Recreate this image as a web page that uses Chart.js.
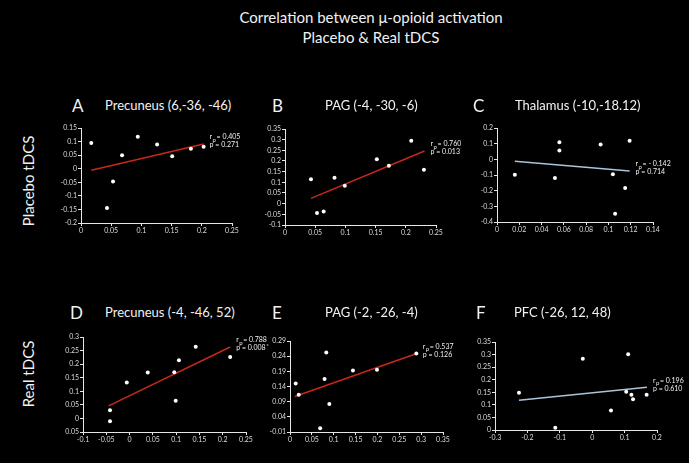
<!DOCTYPE html>
<html>
<head>
<meta charset="utf-8">
<script src="https://cdn.jsdelivr.net/npm/chart.js@4"></script>
<style>
  html, body { margin: 0; padding: 0; background: #000; }
  #stage { position: relative; width: 689px; height: 463px; background: #000; overflow: hidden;
    font-family: Lato, 'Noto Sans', sans-serif; color: #f2f2f2; }
  .txt { position: absolute; white-space: nowrap; line-height: 1; }
  canvas { position: absolute; }
</style>
</head>
<body>
<div id="stage"></div>
<script>
// Six small scatter plots with a fitted line each.
const panelLetters = ['A', 'B', 'C', 'D', 'E', 'F'];
const panelTitles = [
  'Precuneus (6,-36, -46)', 'PAG (-4, -30, -6)', 'Thalamus (-10,-18.12)',
  'Precuneus (-4, -46, 52)', 'PAG (-2, -26, -4)', 'PFC (-26, 12, 48)'
];
const rowLabels = ['Placebo tDCS', 'Real tDCS'];

const xA = [0.017, 0.043, 0.053, 0.068, 0.094, 0.126, 0.151, 0.182, 0.203];
const yA = [0.095, -0.145, -0.047, 0.050, 0.118, 0.089, 0.046, 0.074, 0.081];
const fitXA = [0.017, 0.203];
const fitYA = [-0.006, 0.091];

const xB = [0.043, 0.053, 0.064, 0.082, 0.099, 0.152, 0.172, 0.209, 0.230];
const yB = [0.114, -0.044, -0.037, 0.122, 0.084, 0.208, 0.178, 0.295, 0.159];
const fitXB = [0.043, 0.231];
const fitYB = [0.025, 0.247];

const xC = [0.016, 0.052, 0.056, 0.056, 0.093, 0.104, 0.106, 0.115, 0.119];
const yC = [-0.098, -0.119, 0.109, 0.057, 0.094, -0.096, -0.347, -0.183, 0.119];
const fitXC = [0.016, 0.119];
const fitYC = [-0.013, -0.074];

const xD = [-0.042, -0.042, -0.006, 0.039, 0.096, 0.099, 0.106, 0.142, 0.216];
const yD = [-0.010, 0.030, 0.132, 0.169, 0.170, 0.065, 0.214, 0.264, 0.226];
const fitXD = [-0.045, 0.216];
const fitYD = [0.046, 0.263];

const xE = [0.013, 0.020, 0.069, 0.079, 0.083, 0.090, 0.144, 0.199, 0.289];
const yE = [0.150, 0.113, 0.002, 0.165, 0.252, 0.082, 0.193, 0.195, 0.249];
const fitXE = [0.011, 0.290];
const fitYE = [0.107, 0.249];

const xF = [-0.226, -0.114, -0.029, 0.058, 0.105, 0.111, 0.121, 0.126, 0.168];
const yF = [0.148, 0.009, 0.283, 0.078, 0.152, 0.301, 0.140, 0.122, 0.140];
const fitXF = [-0.226, 0.169];
const fitYF = [0.118, 0.170];

// axis ticks
const xTicksA = [0, 0.05, 0.1, 0.15, 0.2, 0.25];
const yTicksA = [-0.2, -0.15, -0.1, -0.05, 0, 0.05, 0.1, 0.15];
const xTicksB = [0, 0.05, 0.1, 0.15, 0.2, 0.25];
const yTicksB = [-0.1, -0.05, 0, 0.05, 0.1, 0.15, 0.2, 0.25, 0.3, 0.35];
const xTicksC = [0, 0.02, 0.04, 0.06, 0.08, 0.1, 0.12, 0.14];
const yTicksC = [-0.4, -0.3, -0.2, -0.1, 0, 0.1, 0.2];
const xTicksD = [-0.1, -0.05, 0, 0.05, 0.1, 0.15, 0.2, 0.25];
const yTicksD = [-0.05, 0, 0.05, 0.1, 0.15, 0.2, 0.25, 0.3];
const yLabelsD = ['0.05', '0', '0.05', '0.1', '0.15', '0.2', '0.25', '0.3'];
const xTicksE = [0, 0.05, 0.1, 0.15, 0.2, 0.25, 0.3, 0.35];
const yTicksE = [-0.01, 0.04, 0.09, 0.14, 0.19, 0.24, 0.29];
const xTicksF = [-0.3, -0.2, -0.1, 0, 0.1, 0.2];
const yTicksF = [0, 0.05, 0.1, 0.15, 0.2, 0.25, 0.3, 0.35];

const rValues = ['0.405', '0.760', '- 0.142', '0.788', '0.537', '0.196'];
const pValues = ['0.271', '0.013', '0.714', '0.008', '0.126', '0.610'];
const significant = [false, true, false, true, false, false];

const RED = '#c9281b';
const BLUE = '#a9c5dc';
const AXIS = '#e6e6e6';
const FONT = "Lato, 'Noto Sans', sans-serif";

// box: canvas left, top, width, height; pad: room right of the plot area
const panels = [
  { x: xA, y: yA, fx: fitXA, fy: fitYA, xt: xTicksA, yt: yTicksA, color: RED,
    box: [51, 122, 206, 115], pad: 25, letter: [72, 106], title: [105, 106] },
  { x: xB, y: yB, fx: fitXB, fy: fitYB, xt: xTicksB, yt: yTicksB, color: RED,
    box: [255, 123, 206, 116], pad: 25, letter: [272, 106], title: [325, 106] },
  { x: xC, y: yC, fx: fitXC, fy: fitYC, xt: xTicksC, yt: yTicksC, color: BLUE,
    box: [467, 122, 211, 114], pad: 25, letter: [473, 106], title: [515, 106] },
  { x: xD, y: yD, fx: fitXD, fy: fitYD, xt: xTicksD, yt: yTicksD, yl: yLabelsD, color: RED,
    box: [53, 331, 218, 115], pad: 25, letter: [70, 313], title: [105, 313] },
  { x: xE, y: yE, fx: fitXE, fy: fitYE, xt: xTicksE, yt: yTicksE, color: RED,
    box: [260, 335, 208, 111], pad: 25, letter: [272, 313], title: [325, 313] },
  { x: xF, y: yF, fx: fitXF, fy: fitYF, xt: xTicksF, yt: yTicksF, color: BLUE,
    box: [465, 336, 224, 108], pad: 32, letter: [476, 313], title: [514, 313] }
];

const stage = document.getElementById('stage');

function addText(text, left, top, size, extra) {
  const el = document.createElement('div');
  el.className = 'txt';
  el.textContent = text;
  el.style.left = left + 'px';
  el.style.top = top + 'px';
  el.style.fontSize = size + 'px';
  if (extra) Object.assign(el.style, extra);
  stage.appendChild(el);
  return el;
}

// main title
const head = document.createElement('div');
head.className = 'txt';
Object.assign(head.style, { left: '171px', top: '7px', width: '400px', textAlign: 'center',
  fontSize: '15px', lineHeight: '20px' });
head.innerHTML = 'Correlation between \u03bc-opioid activation<br>Placebo &amp; Real tDCS';
stage.appendChild(head);

addText(rowLabels[0], 28, 181, 15, { transform: 'translate(-50%,-50%) rotate(-90deg)' });
addText(rowLabels[1], 28, 374, 15, { transform: 'translate(-50%,-50%) rotate(-90deg)' });

function fmt(v) {
  return String(Number(v.toFixed(3)));
}

const statsLabel = {
  id: 'statsLabel',
  afterDatasetsDraw(chart, args, opts) {
    const i = opts.index;
    const pt = chart.getDatasetMeta(1).data[1];
    const ctx = chart.ctx;
    const x = pt.x + 6;
    const y = pt.y - 7;
    ctx.save();
    ctx.fillStyle = '#f0f0f0';
    ctx.textBaseline = 'middle';
    ctx.textAlign = 'left';
    ctx.font = '7px ' + FONT;
    ctx.fillText('r', x, y);
    ctx.font = '6px ' + FONT;
    ctx.fillText('p', x + 3, y + 3);
    ctx.font = '7px ' + FONT;
    ctx.fillText('= ' + rValues[i], x + 7, y);
    const line2 = 'p = ' + pValues[i];
    ctx.fillText(line2, x, y + 8);
    if (significant[i]) {
      const w = ctx.measureText(line2).width;
      ctx.font = '6px ' + FONT;
      ctx.fillText('*', x + w + 0.5, y + 6);
    }
    ctx.restore();
  }
};

panels.forEach((p, i) => {
  const [left, top, w, h] = p.box;
  addText(panelLetters[i], p.letter[0], p.letter[1] - 9, 17);
  addText(panelTitles[i], p.title[0], p.title[1] - 7, 13);

  const canvas = document.createElement('canvas');
  canvas.width = w;
  canvas.height = h;
  canvas.style.left = left + 'px';
  canvas.style.top = top + 'px';
  stage.appendChild(canvas);

  const points = p.x.map((v, k) => ({ x: v, y: p.y[k] }));
  const fit = p.fx.map((v, k) => ({ x: v, y: p.fy[k] }));

  const axisCommon = {
    type: 'linear',
    border: { display: true, color: AXIS, width: 1 },
    grid: { display: true, drawOnChartArea: false, drawTicks: true, tickLength: 3, color: AXIS },
    ticks: { color: '#dcdcdc', font: { family: FONT, size: 7 }, padding: 1 }
  };

  new Chart(canvas, {
    type: 'scatter',
    data: {
      datasets: [
        { data: points, pointRadius: 2, pointBackgroundColor: '#fff', pointBorderWidth: 0,
          showLine: false, order: 1 },
        { type: 'line', data: fit, borderColor: p.color, borderWidth: 1.5, pointRadius: 0,
          fill: false, order: 2 }
      ]
    },
    options: {
      responsive: false,
      animation: false,
      events: [],
      layout: { padding: { top: 6, right: p.pad, left: 0, bottom: 0 } },
      plugins: { legend: { display: false }, tooltip: { enabled: false }, statsLabel: { index: i } },
      scales: {
        x: {
          ...axisCommon,
          min: p.xt[0], max: p.xt[p.xt.length - 1],
          afterBuildTicks(scale) { scale.ticks = p.xt.map(v => ({ value: v })); },
          afterFit(scale) { scale.height = 14; },
          ticks: { ...axisCommon.ticks, maxRotation: 0, autoSkip: false,
            callback: v => fmt(v) }
        },
        y: {
          ...axisCommon,
          min: p.yt[0], max: p.yt[p.yt.length - 1],
          afterBuildTicks(scale) { scale.ticks = p.yt.map(v => ({ value: v })); },
          afterFit(scale) { scale.width = 30; },
          ticks: { ...axisCommon.ticks, autoSkip: false,
            callback: (v, k) => (p.yl ? p.yl[k] : fmt(v)) }
        }
      }
    },
    plugins: [statsLabel]
  });
});
</script>
</body>
</html>
